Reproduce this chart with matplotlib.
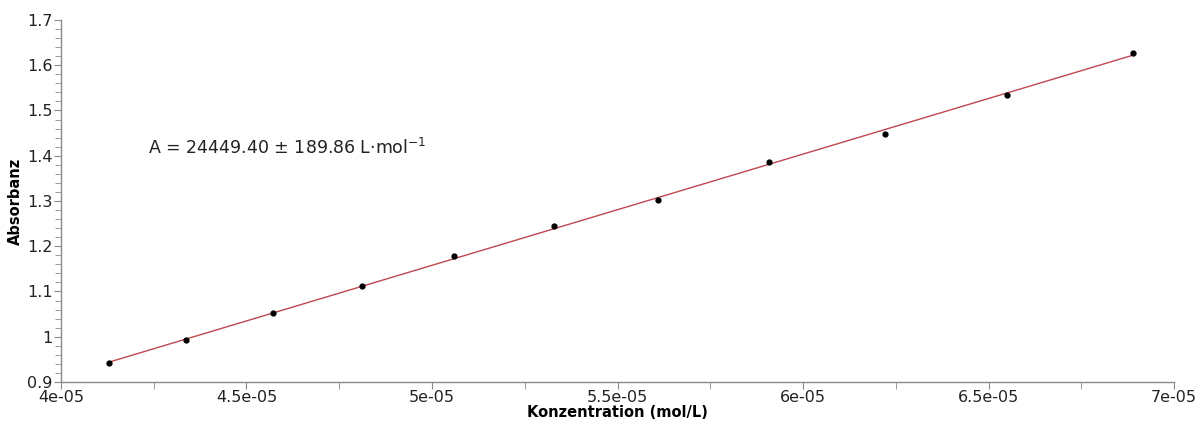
import numpy as np
import matplotlib.pyplot as plt
from matplotlib.ticker import MultipleLocator, FuncFormatter

## Eichgerade Absorbanz vs Konzentration ##################################

konzentration = [4.129e-5, 4.337e-5, 4.571e-5, 4.811e-5, 5.059e-5, 5.329e-5,
                 5.609e-5, 5.908e-5, 6.221e-5, 6.550e-5, 6.889e-5]
absorbanz = [0.942, 0.992, 1.052, 1.112, 1.178, 1.245,
             1.303, 1.386, 1.449, 1.535, 1.627]
x_ticks = [4e-5, 4.5e-5, 5e-5, 5.5e-5, 6e-5, 6.5e-5, 7e-5]
y_ticks = [0.9, 1.0, 1.1, 1.2, 1.3, 1.4, 1.5, 1.6, 1.7]
fit_text = u'A = 24449.40 \u00b1 189.86 L\u00b7mol$^{-1}$'

x = np.array(konzentration)
y = np.array(absorbanz)
b, a = np.polyfit(x, y, 1)
x_fit = np.array([x[0], x[-1]])

fig = plt.figure(figsize=(11.98, 4.28), dpi=100)
ax = fig.add_axes([0.0509, 0.1075, 0.9291, 0.8458])

ax.plot(x_fit, a + b * x_fit, color='#c0474f', lw=1.0, zorder=2)
ax.plot(x, y, 'k.', ms=7, zorder=3)

ax.set_xlim(4e-5, 7e-5)
ax.set_ylim(0.9, 1.7)
ax.set_xticks(x_ticks)
ax.set_yticks(y_ticks)
ax.xaxis.set_minor_locator(MultipleLocator(0.25e-5))
ax.yaxis.set_minor_locator(MultipleLocator(0.02))
ax.xaxis.set_major_formatter(FuncFormatter(lambda v, p: format(v, '.2g')))
ax.yaxis.set_major_formatter(FuncFormatter(lambda v, p: '%g' % round(v, 2)))

for s in ['top', 'right']:
    ax.spines[s].set_visible(False)
for s in ['left', 'bottom']:
    ax.spines[s].set_color('#8a8a8a')
    ax.spines[s].set_linewidth(1.0)

ax.tick_params(which='major', length=5, color='#8a8a8a', labelsize=11.5,
               labelcolor='#222222', pad=1)
ax.tick_params(which='minor', length=4, color='#8a8a8a')
ax.tick_params(axis='x', which='minor', length=5)

ax.set_xlabel('Konzentration (mol/L)', fontsize=10.5, fontweight='bold', labelpad=0)
ax.set_ylabel('Absorbanz', fontsize=10.5, fontweight='bold', labelpad=3)

ax.text(0.078, 0.646, fit_text, transform=ax.transAxes, fontsize=12.5,
        color='#222222', va='center', ha='left')

plt.savefig('out.png', dpi=100)
